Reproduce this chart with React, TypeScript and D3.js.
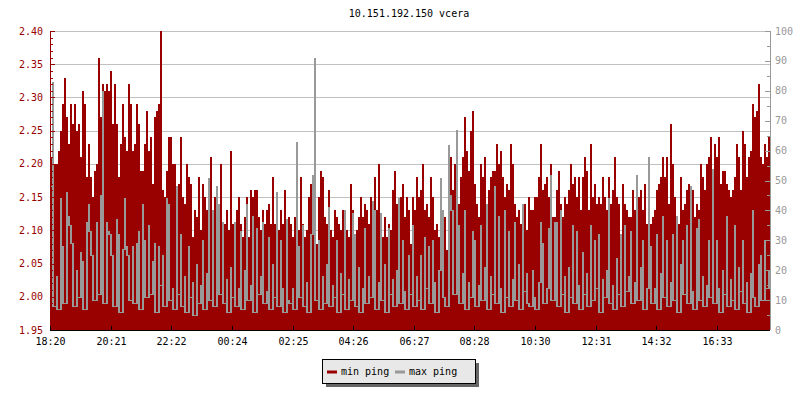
import { area, curveStepAfter, scaleLinear, scaleTime, range } from "d3";

const W = 800;
const H = 400;
const M = { top: 31, right: 30, bottom: 70, left: 50 };
const FONT = "'DejaVu Sans Mono', monospace";
const RED = "#990000";
const GREY = "#999999";

// one sample every 4 minutes, 18:20 -> 18:20 next day
const START = new Date(2024, 0, 1, 18, 20);
const STEP_MIN = 4;
const SPAN_MIN = 1440;

const title = "10.151.192.150 vcera";
const xTickLabels = ["18:20", "20:21", "22:22", "00:24", "02:25", "04:26", "06:27", "08:28", "10:30", "12:31", "14:32", "16:33"];
const leftDomain = [1.95, 2.4];
const rightDomain = [0, 100];
const seriesNames = ["min ping", "max ping"];

// min ping (left axis, ms)
const minPing = [
  2.21, 2.21, 2.20, 2.20, 2.22, 2.25, 2.29, 2.33, 2.27, 2.23,
  2.29, 2.26, 2.29, 2.25, 2.26, 2.21, 2.31, 2.29, 2.18, 2.23,
  2.18, 2.15, 2.19, 2.20, 2.36, 2.27, 2.32, 2.31, 2.32, 2.31,
  2.34, 2.26, 2.32, 2.26, 2.18, 2.23, 2.29, 2.24, 2.22, 2.32,
  2.29, 2.22, 2.23, 2.29, 2.26, 2.19, 2.19, 2.23, 2.28, 2.22,
  2.24, 2.17, 2.27, 2.28, 2.29, 2.40, 2.16, 2.15, 2.19, 2.24,
  2.24, 2.20, 2.20, 2.16, 2.17, 2.24, 2.15, 2.14, 2.20, 2.18,
  2.17, 2.09, 2.13, 2.12, 2.18, 2.10, 2.17, 2.15, 2.13, 2.11,
  2.21, 2.11, 2.15, 2.13, 2.12, 2.20, 2.10, 2.11, 2.13, 2.10,
  2.22, 2.11, 2.09, 2.13, 2.15, 2.11, 2.09, 2.12, 2.15, 2.09,
  2.16, 2.15, 2.16, 2.16, 2.12, 2.10, 2.13, 2.11, 2.13, 2.14,
  2.11, 2.18, 2.11, 2.12, 2.10, 2.13, 2.11, 2.16, 2.11, 2.12,
  2.11, 2.09, 2.12, 2.12, 2.10, 2.18, 2.11, 2.09, 2.10, 2.15,
  2.17, 2.17, 2.18, 2.08, 2.15, 2.19, 2.18, 2.12, 2.11, 2.16,
  2.10, 2.09, 2.13, 2.12, 2.11, 2.10, 2.13, 2.08, 2.10, 2.09,
  2.17, 2.13, 2.08, 2.10, 2.12, 2.15, 2.12, 2.14, 2.13, 2.11,
  2.15, 2.14, 2.18, 2.13, 2.20, 2.10, 2.09, 2.12, 2.09, 2.11,
  2.10, 2.16, 2.19, 2.14, 2.12, 2.15, 2.17, 2.12, 2.15, 2.13,
  2.08, 2.15, 2.13, 2.18, 2.15, 2.16, 2.20, 2.13, 2.14, 2.12,
  2.18, 2.15, 2.10, 2.11, 2.09, 2.14, 2.10, 2.12, 2.07, 2.15,
  2.21, 2.16, 2.20, 2.18, 2.14, 2.18, 2.21, 2.27, 2.22, 2.19,
  2.25, 2.28, 2.17, 2.14, 2.12, 2.20, 2.18, 2.21, 2.14, 2.16,
  2.18, 2.19, 2.19, 2.23, 2.20, 2.22, 2.18, 2.15, 2.17, 2.16,
  2.23, 2.20, 2.14, 2.12, 2.13, 2.11, 2.12, 2.14, 2.10, 2.15,
  2.13, 2.13, 2.15, 2.15, 2.18, 2.23, 2.16, 2.17, 2.18, 2.15,
  2.20, 2.12, 2.12, 2.16, 2.19, 2.14, 2.12, 2.15, 2.14, 2.16,
  2.20, 2.17, 2.18, 2.15, 2.18, 2.13, 2.18, 2.21, 2.19, 2.13,
  2.23, 2.15, 2.17, 2.14, 2.15, 2.14, 2.18, 2.15, 2.13, 2.18,
  2.14, 2.16, 2.21, 2.15, 2.14, 2.08, 2.17, 2.14, 2.13, 2.12,
  2.12, 2.16, 2.13, 2.17, 2.15, 2.16, 2.13, 2.17, 2.11, 2.12,
  2.11, 2.12, 2.13, 2.16, 2.17, 2.18, 2.21, 2.18, 2.21, 2.14,
  2.26, 2.20, 2.15, 2.12, 2.11, 2.18, 2.13, 2.14, 2.16, 2.17,
  2.14, 2.16, 2.12, 2.14, 2.13, 2.20, 2.18, 2.16, 2.20, 2.21,
  2.24, 2.13, 2.23, 2.21, 2.24, 2.17, 2.19, 2.19, 2.17, 2.16,
  2.15, 2.16, 2.18, 2.23, 2.21, 2.16, 2.25, 2.23, 2.18, 2.21,
  2.22, 2.29, 2.27, 2.28, 2.32, 2.21, 2.20, 2.23, 2.21, 2.24,
];

// max ping (right axis, ms)
const maxPing = [
  48, 83, 8, 18, 7, 44, 28, 9, 46, 38,
  35, 29, 8, 20, 11, 26, 23, 7, 36, 42,
  33, 25, 10, 36, 12, 45, 80, 9, 36, 33,
  32, 25, 8, 37, 32, 6, 27, 44, 28, 25,
  10, 28, 9, 29, 33, 7, 42, 30, 11, 35,
  12, 23, 29, 6, 28, 15, 25, 8, 44, 42,
  10, 14, 7, 48, 12, 32, 8, 18, 6, 28,
  11, 16, 5, 22, 9, 15, 30, 7, 19, 51,
  10, 40, 8, 48, 42, 12, 36, 9, 17, 6,
  21, 11, 36, 8, 14, 33, 7, 20, 42, 10,
  15, 38, 6, 34, 12, 18, 36, 9, 13, 31,
  7, 22, 11, 46, 8, 30, 14, 6, 37, 10,
  9, 14, 7, 63, 28, 11, 35, 8, 16, 6,
  32, 52, 91, 10, 30, 7, 18, 9, 22, 41,
  8, 15, 11, 30, 6, 19, 12, 40, 7, 17,
  10, 39, 32, 8, 21, 6, 14, 34, 9, 18,
  11, 43, 40, 7, 16, 39, 10, 22, 6, 34,
  12, 17, 8, 20, 44, 9, 30, 13, 7, 25,
  12, 35, 8, 18, 10, 25, 7, 31, 14, 28,
  9, 30, 16, 6, 20, 51, 40, 11, 8, 62,
  45, 40, 12, 67, 35, 9, 19, 40, 7, 16,
  11, 33, 30, 8, 15, 35, 10, 21, 42, 7,
  18, 12, 48, 9, 38, 14, 6, 40, 11, 33,
  8, 17, 36, 10, 22, 7, 42, 13, 19, 9,
  8, 20, 11, 7, 16, 36, 29, 9, 14, 34,
  52, 10, 36, 36, 8, 40, 12, 18, 6, 21,
  11, 35, 9, 33, 15, 7, 26, 12, 19, 8,
  35, 10, 30, 14, 32, 6, 17, 11, 20, 44,
  9, 15, 7, 24, 12, 32, 8, 35, 13, 18,
  33, 9, 16, 52, 10, 21, 30, 7, 14, 58,
  28, 9, 14, 32, 7, 19, 38, 11, 30, 8,
  16, 32, 10, 38, 6, 22, 30, 12, 35, 9,
  48, 13, 7, 34, 37, 10, 18, 8, 15, 30,
  11, 54, 9, 30, 14, 6, 20, 12, 38, 8,
  17, 10, 35, 7, 21, 13, 30, 9, 16, 6,
  19, 40, 11, 8, 22, 25, 10, 30, 14, 20,
];

type Pt = { t: Date; v: number };

const addMin = (d: Date, m: number) => new Date(d.getTime() + m * 60000);

function toPoints(values: number[]): Pt[] {
  const pts = values.map((v, i) => ({ t: addMin(START, i * STEP_MIN), v }));
  pts.push({ t: addMin(START, SPAN_MIN), v: values[values.length - 1] });
  return pts;
}

function labelTime(lbl: string) {
  const [h, m] = lbl.split(":").map(Number);
  const d = new Date(START);
  d.setHours(h, m, 0, 0);
  if (d < START) d.setDate(d.getDate() + 1);
  return d;
}

export default function App() {
  const x0 = M.left;
  const x1 = W - M.right;
  const y0 = H - M.bottom;
  const y1 = M.top;

  const x = scaleTime().domain([START, addMin(START, SPAN_MIN)]).range([x0, x1]);
  const yL = scaleLinear().domain(leftDomain).range([y0, y1]);
  const yR = scaleLinear().domain(rightDomain).range([y0, y1]);

  const redPath =
    area<Pt>()
      .x((d) => x(d.t))
      .y0(y0)
      .y1((d) => yL(d.v))
      .curve(curveStepAfter)(toPoints(minPing)) ?? "";

  // max ping: each sample drawn from its value down to the lowest neighbouring
  // sample, so the trace reads as a dense band with needles
  const greyRuns = maxPing.map((v, i) => {
    const lo = Math.min(v, maxPing[Math.max(0, i - 1)], maxPing[Math.min(maxPing.length - 1, i + 1)]);
    const top = Math.round(yR(v));
    const bot = Math.round(yR(lo));
    const xa = Math.round(x(addMin(START, i * STEP_MIN)));
    const xb = Math.round(x(addMin(START, (i + 1) * STEP_MIN)));
    return { x: xa, w: xb - xa, top, h: Math.max(1, bot - top + 1) };
  });

  const leftMajor = range(0, 10).map((i) => leftDomain[0] + i * 0.05);
  const leftMinor = range(0, 46).map((i) => leftDomain[0] + i * 0.01);
  const rightMajor = range(0, 11).map((i) => i * 10);
  const rightMinor = range(0, 21).map((i) => i * 5);

  return (
    <div style={{ position: "absolute", left: 0, top: 0 }}>
      <svg width={W} height={H} viewBox={`0 0 ${W} ${H}`} style={{ display: "block", background: "#fff" }} fontFamily={FONT} fontSize={10}>
        <text x={W / 2 + 9} y={17} textAnchor="middle" fill="#000">
          {title}
        </text>

        {/* grid */}
        {leftMajor.map((v) => (
          <line key={`g${v}`} x1={x0} x2={x1} y1={Math.round(yL(v)) + 0.5} y2={Math.round(yL(v)) + 0.5} stroke="#c0c0c0" />
        ))}

        <path d={redPath} fill={RED} shapeRendering="crispEdges" />
        <g fill={GREY} shapeRendering="crispEdges">
          {greyRuns.map((r, i) => (
            <rect key={i} x={r.x} y={r.top} width={r.w} height={r.h} />
          ))}
        </g>

        {/* left axis */}
        <line x1={x0 + 0.5} x2={x0 + 0.5} y1={y1} y2={y0} stroke={RED} />
        {leftMinor.map((v) => (
          <line key={`lm${v}`} x1={x0} x2={x0 + 3} y1={Math.round(yL(v)) + 0.5} y2={Math.round(yL(v)) + 0.5} stroke={RED} />
        ))}
        {leftMajor.map((v) => (
          <g key={`l${v}`}>
            <line x1={x0} x2={x0 + 5} y1={Math.round(yL(v)) + 0.5} y2={Math.round(yL(v)) + 0.5} stroke={RED} />
            <text x={x0 - 7} y={yL(v)} dy="0.35em" textAnchor="end" fill={RED}>
              {v.toFixed(2)}
            </text>
          </g>
        ))}

        {/* right axis */}
        <line x1={x1 + 0.5} x2={x1 + 0.5} y1={y1} y2={y0} stroke={GREY} />
        {rightMinor.map((v) => (
          <line key={`rm${v}`} x1={x1 - 3} x2={x1} y1={Math.round(yR(v)) + 0.5} y2={Math.round(yR(v)) + 0.5} stroke={GREY} />
        ))}
        {rightMajor.map((v) => (
          <g key={`r${v}`}>
            <line x1={x1 - 5} x2={x1} y1={Math.round(yR(v)) + 0.5} y2={Math.round(yR(v)) + 0.5} stroke={GREY} />
            <text x={x1 + 5} y={yR(v)} dy="0.35em" textAnchor="start" fill={GREY}>
              {v}
            </text>
          </g>
        ))}

        {/* x axis */}
        <line x1={x0} x2={x1} y1={y0 + 0.5} y2={y0 + 0.5} stroke="#000" />
        {xTickLabels.map((lbl) => {
          const px = Math.round(x(labelTime(lbl))) + 0.5;
          return (
            <g key={lbl}>
              <line x1={px} x2={px} y1={y0 - 4} y2={y0} stroke="#000" />
              <text x={px} y={y0 + 15} textAnchor="middle" fill="#000">
                {lbl}
              </text>
            </g>
          );
        })}

        {/* legend */}
        <g transform="translate(322,359)">
          <rect x={4} y={4} width={153} height={24} fill="#666" />
          <rect x={0.5} y={0.5} width={153} height={24} fill="#e8e8e8" stroke="#000" />
          <line x1={5} x2={15} y1={13} y2={13} stroke={RED} strokeWidth={3} />
          <text x={19} y={16} fill="#000">
            {seriesNames[0]}
          </text>
          <line x1={73} x2={83} y1={13} y2={13} stroke={GREY} strokeWidth={3} />
          <text x={87} y={16} fill="#000">
            {seriesNames[1]}
          </text>
        </g>
      </svg>
    </div>
  );
}
